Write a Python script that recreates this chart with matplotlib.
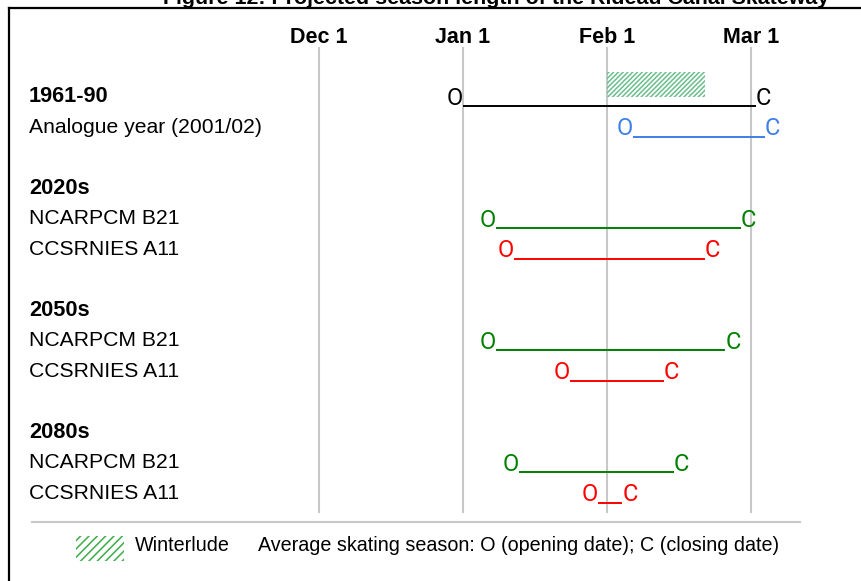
import matplotlib
matplotlib.use('Agg')
import matplotlib.pyplot as plt
import matplotlib.lines as mlines
import matplotlib.transforms as mtransforms
from matplotlib.patches import Rectangle

# axis months (equal spacing on the chart)
months = ['Dec', 'Jan', 'Feb', 'Mar']
month_days = [31, 31, 28, 31]
month_ticks = ['Dec 1', 'Jan 1', 'Feb 1', 'Mar 1']

# row labels, one per row (blank rows separate the periods)
row_labels = ['1961-90', 'Analogue year (2001/02)', '',
              '2020s', 'NCARPCM B21', 'CCSRNIES A11', '',
              '2050s', 'NCARPCM B21', 'CCSRNIES A11', '',
              '2080s', 'NCARPCM B21', 'CCSRNIES A11']
bold_rows = [0, 3, 7, 11]

# skating seasons
season_rows = [0, 1, 4, 5, 8, 9, 12, 13]
open_dates = ['Jan 1', 'Feb 6', 'Jan 8', 'Jan 12', 'Jan 8', 'Jan 24', 'Jan 13', 'Jan 30']
close_dates = ['Mar 2', 'Mar 4', 'Feb 27', 'Feb 20', 'Feb 24', 'Feb 12', 'Feb 14', 'Feb 4']
season_colors = ['black', '#3f7fe8', 'green', 'red', 'green', 'red', 'green', 'red']

winterlude = ['Feb 1', 'Feb 20']

title = 'Figure 12: Projected season length of the Rideau Canal Skateway'
legend_text = 'Average skating season: O (opening date); C (closing date)'

SANS = ['Liberation Sans', 'DejaVu Sans']
plt.rcParams['hatch.linewidth'] = 1.1


def month_pos(s):
    """Convert 'Mon d' into a position on the month axis (Dec 1 = 0)"""
    mon, day = s.split()
    i = months.index(mon)
    return i + (int(day) - 1) / month_days[i]


W, H = 862, 581
fig = plt.figure(figsize=(W / 100, H / 100), dpi=100)
ax = fig.add_axes([0, 0, 1, 1])
# 144 px per month, Dec 1 at x=319 px ; 30.5 px per row, row 0 at y=96 px
ax.set_xlim(-319 / 144, (W - 319) / 144)
ax.set_ylim((H - 96) / 30.5, -96 / 30.5)
ax.axis('off')
trans = mtransforms.blended_transform_factory(ax.transAxes, ax.transData)

# vertical grid lines and month labels
tick_x = [month_pos(m) for m in month_ticks]
ax.vlines(tick_x, -1.6, 13.68, color='#c8c8c8', lw=1.5, zorder=1)
for x, lab in zip(tick_x, month_ticks):
    ax.text(x, -1.74, lab, ha='center', va='baseline', fontsize=15.5,
            fontweight='bold', family=SANS)

# row labels
for r, lab in enumerate(row_labels):
    if lab:
        bold = r in bold_rows
        ax.text(29 / W, r + 0.2, lab, transform=trans, ha='left', va='baseline',
                fontsize=15.7 if bold else 15.2, family=SANS,
                fontweight='bold' if bold else 'normal')

# winterlude box
w0, w1 = month_pos(winterlude[0]), month_pos(winterlude[1])
ax.barh(-0.39, w1 - w0, left=w0, height=0.82, facecolor='none',
        edgecolor='#6abf8c', hatch='///////', linewidth=0, zorder=2)

# seasons: O____C
for r, o, c, col in zip(season_rows, open_dates, close_dates, season_colors):
    xo, xc = month_pos(o), month_pos(c)
    ax.plot([xo, xc], [r + 0.34, r + 0.34], color=col, lw=1.4,
            solid_capstyle='butt', zorder=3)
    ax.text(xo, r + 0.29, 'O', ha='right', va='baseline', color=col,
            fontsize=17, family='Roboto', zorder=4)
    ax.text(xc, r + 0.29, 'C', ha='left', va='baseline', color=col,
            fontsize=17, family='Roboto', zorder=4)

# separator and legend
ax.axhline(13.97, xmin=32 / W, xmax=800 / W, color='#c8c8c8', lw=1.5)
ax.add_patch(Rectangle((76 / W, 1 - 561 / H), 48 / W, 25 / H, transform=ax.transAxes,
                       facecolor='none', edgecolor='#3dac4a', hatch='////', linewidth=0))
ax.text(135 / W, 1 - 551 / H, 'Winterlude', transform=ax.transAxes, ha='left',
        va='baseline', fontsize=14.2, family=SANS)
ax.text(258 / W, 1 - 551 / H, legend_text, transform=ax.transAxes, ha='left',
        va='baseline', fontsize=14.2, family=SANS)

# frame and (clipped) title
fig.add_artist(mlines.Line2D([9 / W, 9 / W], [0, 1 - 8 / H], color='black', lw=1.6))
fig.add_artist(mlines.Line2D([9 / W, 1], [1 - 8 / H, 1 - 8 / H], color='black', lw=1.6))
fig.text(496 / W, 1 - 4 / H, title, ha='center', va='baseline', fontsize=15.4,
         fontweight='bold', family=SANS)

fig.savefig('out.png', dpi=100)
